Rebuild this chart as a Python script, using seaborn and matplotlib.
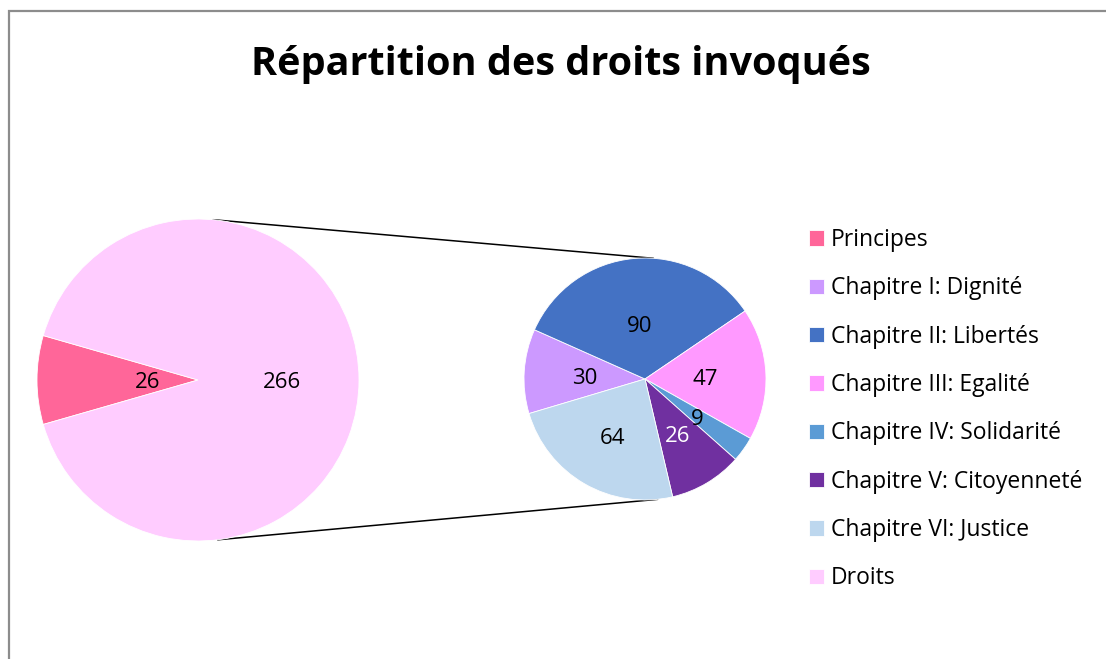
import numpy as np
import matplotlib
matplotlib.use("Agg")
import matplotlib.pyplot as plt
import seaborn as sns

# Données
categories_gauche = ["Principes", "Droits"]
valeurs_gauche = [26, 266]
chapitres = [
    "Chapitre I: Dignité",
    "Chapitre II: Libertés",
    "Chapitre III: Egalité",
    "Chapitre IV: Solidarité",
    "Chapitre V: Citoyenneté",
    "Chapitre VI: Justice",
]
valeurs_droits = [30, 90, 47, 9, 26, 64]
titre = "Répartition des droits invoqués"

couleurs_gauche = ["#FF6699", "#FFCCFF"]
couleurs_droite = ["#CC99FF", "#4472C4", "#FF99FF", "#5B9BD5", "#7030A0", "#BDD7EE"]

sns.set_style("white")
plt.rcParams["font.family"] = ["Open Sans", "DejaVu Sans"]
plt.rcParams["text.color"] = "black"

W, H = 1106, 659
fig = plt.figure(figsize=(W / 100, H / 100), dpi=100)
ax = fig.add_axes([0, 0, 1, 1])

# géométrie (pixels, y vers le haut)
c_g, r_g = (198, 279), 161
c_d, r_d = (645, 280), 121

wedges_g, _ = ax.pie(valeurs_gauche, colors=couleurs_gauche, center=c_g, radius=r_g,
                     startangle=180 + 180 * valeurs_gauche[0] / sum(valeurs_gauche),
                     counterclock=False, frame=True,
                     wedgeprops=dict(edgecolor="white", linewidth=0.6))
wedges_d, _ = ax.pie(valeurs_droits, colors=couleurs_droite, center=c_d, radius=r_d,
                     startangle=196.6, counterclock=False, frame=True,
                     wedgeprops=dict(edgecolor="white", linewidth=0.6))
ax.set_xlim(0, W)
ax.set_ylim(0, H)
ax.set_aspect("equal")
ax.axis("off")


def etiquettes(wedges, valeurs, centre, rayon, distances, couleurs_txt):
    for w, v, d, ct in zip(wedges, valeurs, distances, couleurs_txt):
        a = np.deg2rad((w.theta1 + w.theta2) / 2)
        ax.text(centre[0] + d * rayon * np.cos(a), centre[1] + d * rayon * np.sin(a) - 3,
                str(v), ha="center", va="center", fontsize=16, color=ct)


etiquettes(wedges_g, valeurs_gauche, c_g, r_g, [0.31, 0.52], ["black", "black"])
etiquettes(wedges_d, valeurs_droits, c_d, r_d, [0.5, 0.46, 0.5, 0.53, 0.52, 0.54],
           ["black", "black", "black", "black", "white", "black"])

# lignes de liaison
for ag, ad in [(84.7, 86.0), (-83.0, -84.0)]:
    xg = c_g[0] + r_g * np.cos(np.deg2rad(ag))
    yg = c_g[1] + r_g * np.sin(np.deg2rad(ag))
    xd = c_d[0] + r_d * np.cos(np.deg2rad(ad))
    yd = c_d[1] + r_d * np.sin(np.deg2rad(ad))
    ax.plot([xg, xd], [yg, yd], color="black", linewidth=1.1, zorder=0.5)

ax.text(561, H - 64, titre, ha="center", va="center", fontsize=28.5,
        fontweight="bold", color="black")

handles = [wedges_g[0]] + list(wedges_d) + [wedges_g[1]]
labels = [categories_gauche[0]] + chapitres + [categories_gauche[1]]
ax.legend(handles, labels, loc="upper left", bbox_to_anchor=(800 / W, 1 - 219 / H),
          frameon=False, fontsize=16.5, handlelength=0.65, handleheight=0.65,
          handletextpad=0.3, labelspacing=1.06, borderaxespad=0, labelcolor="black")

# bordure
ax.add_patch(plt.Rectangle((9, -20), 1200, H - 11 + 20, fill=False,
                           edgecolor="#8C8C8C", linewidth=1.6, zorder=0))

fig.savefig("out.png", dpi=100)
